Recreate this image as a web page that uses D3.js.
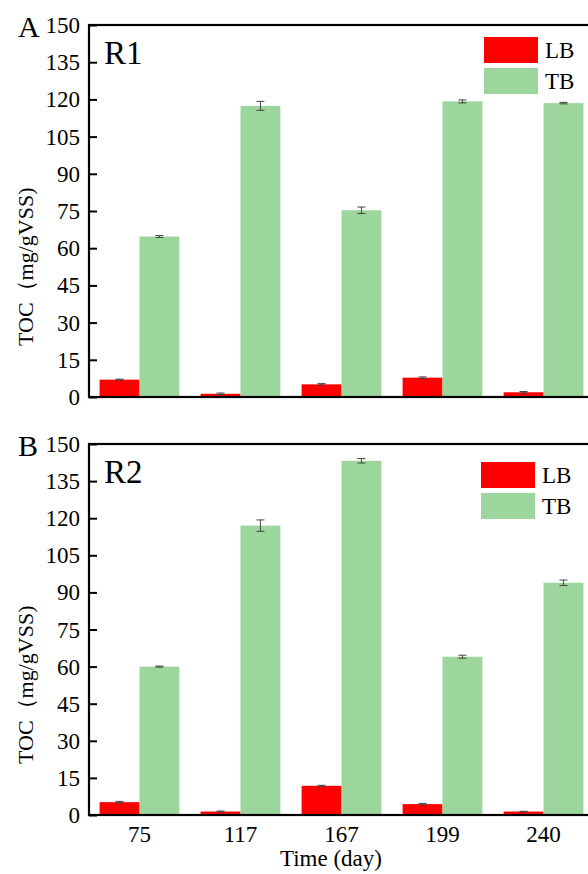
<!DOCTYPE html>
<html>
<head>
<style>
    body { margin: 0; background: #fff; }
    text { font-family: "Liberation Serif", "DejaVu Serif", serif; fill: #000; }
</style>
</head>
<body>
<svg id="chart" width="588" height="874"></svg>
<script src="https://d3js.org/d3.v7.min.js"></script>
<script>
    // Sampling days and TOC values (mg/gVSS)
    const days = ["75", "117", "167", "199", "240"];
    const series = ["LB", "TB"];
    const yTicks = [0, 15, 30, 45, 60, 75, 90, 105, 120, 135, 150];

    const r1LB = [7.0, 1.3, 5.1, 7.8, 1.9];
    const r1LBErr = [0.2, 0.3, 0.3, 0.3, 0.3];
    const r1TB = [64.7, 117.4, 75.3, 119.2, 118.5];
    const r1TBErr = [0.4, 1.8, 1.3, 0.6, 0.3];

    const r2LB = [5.2, 1.4, 11.8, 4.4, 1.4];
    const r2LBErr = [0.3, 0.2, 0.2, 0.3, 0.1];
    const r2TB = [60.0, 117.0, 143.2, 64.0, 93.9];
    const r2TBErr = [0.2, 2.3, 0.9, 0.6, 1.1];

    const colors = { LB: "#ff0000", TB: "#9cd69c" };

    let svg = d3.select("#chart");
    let left = 89, right = 594;

    let xScale = d3.scaleBand()
        .domain(days)
        .range([left, right])
        .paddingInner(0.21)
        .paddingOuter(0.105);
    let xSub = d3.scaleBand()
        .domain(series)
        .range([0, xScale.bandwidth()]);

    function drawPanel(opt) {
        let yScale = d3.scaleLinear()
            .domain([0, 150])
            .range([opt.bottom, opt.top]);

        let rows = days.map((d, i) => ({
            day: d,
            vals: [
                { key: "LB", v: opt.lb[i], e: opt.lbErr[i] },
                { key: "TB", v: opt.tb[i], e: opt.tbErr[i] }
            ]
        }));

        let groups = svg.append("g").selectAll("g")
            .data(rows)
            .enter()
            .append("g")
            .attr("transform", (d) => "translate(" + xScale(d.day) + ",0)");

        groups.selectAll("rect")
            .data((d) => d.vals)
            .enter()
            .append("rect")
            .attr("x", (d) => xSub(d.key))
            .attr("width", xSub.bandwidth())
            .attr("y", (d) => yScale(d.v))
            .attr("height", (d) => yScale(0) - yScale(d.v))
            .attr("fill", (d) => colors[d.key]);

        //error bars
        let err = groups.selectAll(".err")
            .data((d) => d.vals)
            .enter()
            .append("g")
            .attr("class", "err")
            .attr("stroke", "#444")
            .attr("stroke-width", 1);
        let cx = (d) => xSub(d.key) + xSub.bandwidth() / 2;
        err.append("line")
            .attr("x1", cx).attr("x2", cx)
            .attr("y1", (d) => yScale(d.v + d.e))
            .attr("y2", (d) => yScale(d.v - d.e));
        err.append("line")
            .attr("x1", (d) => cx(d) - 4).attr("x2", (d) => cx(d) + 4)
            .attr("y1", (d) => yScale(d.v + d.e))
            .attr("y2", (d) => yScale(d.v + d.e));
        err.append("line")
            .attr("x1", (d) => cx(d) - 4).attr("x2", (d) => cx(d) + 4)
            .attr("y1", (d) => yScale(d.v - d.e))
            .attr("y2", (d) => yScale(d.v - d.e));

        //y axis with inward ticks
        let yAxis = svg.append("g")
            .attr("transform", "translate(" + left + ",0)")
            .call(d3.axisRight(yScale).tickValues(yTicks).tickSize(8).tickFormat(""));
        yAxis.select(".domain").remove();
        yAxis.selectAll("line").attr("stroke", "#000").attr("stroke-width", 2);

        svg.append("g").selectAll("text")
            .data(yTicks)
            .enter()
            .append("text")
            .attr("x", left - 9)
            .attr("y", (d) => yScale(d))
            .attr("dy", "0.35em")
            .attr("text-anchor", "end")
            .style("font-size", "23px")
            .text((d) => d);

        //frame
        svg.append("rect")
            .attr("x", left)
            .attr("y", opt.top)
            .attr("width", right - left)
            .attr("height", opt.bottom - opt.top)
            .attr("fill", "none")
            .attr("stroke", "#000")
            .attr("stroke-width", 2.2);

        svg.append("text")
            .attr("x", 18).attr("y", opt.top + 12)
            .style("font-size", "30px")
            .text(opt.letter);

        svg.append("text")
            .attr("x", 104).attr("y", opt.top + 39)
            .style("font-size", "33px")
            .text(opt.name);

        svg.append("text")
            .attr("transform", "translate(33," + (opt.bottom - 51) + ") rotate(-90)")
            .attr("text-anchor", "start")
            .style("font-size", "22px")
            .text("TOC（mg/gVSS)");

        //legend
        let lg = svg.append("g").selectAll("g")
            .data(series)
            .enter()
            .append("g")
            .attr("transform", (d, i) => "translate(" + opt.legX + "," + (opt.legY + i * 31) + ")");
        lg.append("rect")
            .attr("width", 54).attr("height", 26)
            .attr("fill", (d) => colors[d]);
        lg.append("text")
            .attr("x", 61).attr("y", 13)
            .attr("dy", "0.35em")
            .style("font-size", "23px")
            .text((d) => d);

        return yScale;
    }

    drawPanel({ top: 25, bottom: 397, letter: "A", name: "R1",
        lb: r1LB, lbErr: r1LBErr, tb: r1TB, tbErr: r1TBErr, legX: 484, legY: 37 });
    drawPanel({ top: 444, bottom: 815, letter: "B", name: "R2",
        lb: r2LB, lbErr: r2LBErr, tb: r2TB, tbErr: r2TBErr, legX: 481, legY: 462 });

    //x tick labels under bottom panel
    svg.append("g").selectAll("text")
        .data(days)
        .enter()
        .append("text")
        .attr("x", (d) => xScale(d) + xScale.bandwidth() / 2)
        .attr("y", 842)
        .attr("text-anchor", "middle")
        .style("font-size", "23px")
        .text((d) => d);

    svg.append("text")
        .attr("x", 331).attr("y", 866)
        .attr("text-anchor", "middle")
        .style("font-size", "23px")
        .text("Time (day)");
</script>
</body>
</html>
